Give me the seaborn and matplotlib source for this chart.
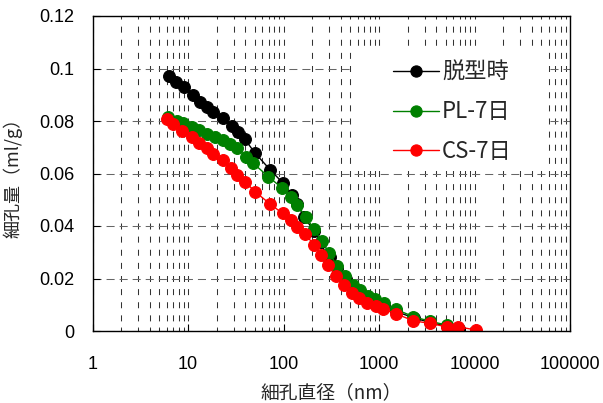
import matplotlib
matplotlib.use("Agg")
import matplotlib.pyplot as plt
from matplotlib.patches import Rectangle
from matplotlib.ticker import FixedLocator, LogLocator, NullFormatter
import pandas as pd
import seaborn as sns

# Cumulative pore volume (ml/g) against pore diameter (nm)
demold_d = [6.3, 7.5, 9.1, 11.4, 13.4, 15.7, 18.4, 23.4, 28.7, 33.6, 39.5, 50, 73, 99,
            122, 140, 165, 210, 245, 283, 305, 365, 450, 520, 620, 770, 910, 1130, 1500,
            2300, 3400, 5100, 6800]
demold_v = [0.0971, 0.0950, 0.0928, 0.0899, 0.0873, 0.0852, 0.0836, 0.0810, 0.0781, 0.0759,
            0.0730, 0.0679, 0.0613, 0.0563, 0.0520, 0.0482, 0.0433, 0.0380, 0.0340, 0.0285,
            0.0283, 0.0240, 0.0200, 0.0168, 0.0148, 0.0126, 0.0114, 0.0098, 0.0075, 0.0050,
            0.0033, 0.0018, 0.0008]

pl7_d = [6.2, 7.6, 8.9, 10.9, 13.1, 15.7, 19.2, 23.1, 27.5, 32.8, 40.5, 48.3, 69.3, 95.8,
         120, 140, 170, 210, 250, 302, 362, 440, 530, 630, 770, 910, 1120, 1510, 2290, 3400,
         5100]
pl7_v = [0.0816, 0.0800, 0.0791, 0.0778, 0.0766, 0.0750, 0.0738, 0.0728, 0.0712, 0.0696,
         0.0664, 0.0639, 0.0588, 0.0546, 0.0512, 0.0480, 0.0436, 0.0387, 0.0342, 0.0298,
         0.0249, 0.0208, 0.0175, 0.0155, 0.0135, 0.0123, 0.0105, 0.0082, 0.0055, 0.0037,
         0.0023]

cs7_d = [6.0, 7.0, 8.7, 10.9, 13.1, 15.7, 18.4, 23.4, 28, 32.8, 39.5, 50.3, 72.2, 98,
         120, 140, 168, 209, 245, 294, 355, 430, 517, 622, 754, 930, 1110, 1520, 2290, 3400,
         5100, 6770, 10300]
cs7_v = [0.0806, 0.0789, 0.0763, 0.0738, 0.0717, 0.0696, 0.0674, 0.0651, 0.0620, 0.0594,
         0.0569, 0.0531, 0.0484, 0.0448, 0.0423, 0.0397, 0.0370, 0.0328, 0.0290, 0.0251,
         0.0210, 0.0175, 0.0146, 0.0125, 0.0108, 0.0095, 0.0083, 0.0065, 0.0039, 0.0029,
         0.0016, 0.0016, 0.0004]

series_names = ["脱型時", "PL-7日", "CS-7日"]
series_colors = ["black", "green", "red"]

x_ticks = [1, 10, 100, 1000, 10000, 100000]
x_tick_labels = ["1", "10", "100", "1000", "10000", "100000"]
y_ticks = [0, 0.02, 0.04, 0.06, 0.08, 0.1, 0.12]
y_tick_labels = ["0", "0.02", "0.04", "0.06", "0.08", "0.1", "0.12"]

x_label = "細孔直径（nm）"
y_label = "細孔量（ml/g）"

sns.set_style("ticks")
plt.rcParams["font.family"] = ["Liberation Sans", "Noto Sans CJK JP", "DejaVu Sans"]
plt.rcParams["lines.scale_dashes"] = False

frames = []
for name, d, v in zip(series_names, [demold_d, pl7_d, cs7_d], [demold_v, pl7_v, cs7_v]):
    frames.append(pd.DataFrame({"diameter": d, "volume": v, "series": name}))
data = pd.concat(frames, ignore_index=True)

fig = plt.figure(figsize=(6.03, 4.03), dpi=100)
ax = fig.add_axes([92.5 / 603, 1 - 331 / 403, 477.5 / 603, 315 / 403])

for name, color in zip(series_names, series_colors):
    sub = data[data["series"] == name]
    sns.lineplot(data=sub, x="diameter", y="volume", ax=ax, color=color, sort=False,
                 estimator=None, marker="o", markersize=8.5, mec=color, mew=0.8,
                 linewidth=1.0, label=name)

ax.set_xscale("log")
ax.set_xlim(1, 100000)
ax.set_ylim(0, 0.12)
ax.xaxis.set_major_locator(FixedLocator(x_ticks))
ax.set_xticklabels(x_tick_labels)
ax.xaxis.set_minor_locator(LogLocator(base=10, subs=range(2, 10), numticks=20))
ax.xaxis.set_minor_formatter(NullFormatter())
ax.set_yticks(y_ticks)
ax.set_yticklabels(y_tick_labels)

# dashed grid: short dark dashes on every decade step, longer grey dashes on y ticks
vdash = (2.16, (4.32, 5.13))
ax.grid(True, which="both", axis="x", color="#333333", linewidth=0.75, linestyle=vdash)
ax.grid(True, which="major", axis="y", color="#666666", linewidth=0.75,
        linestyle=(0, (5.8, 3.6)))

ax.tick_params(axis="both", which="major", direction="in", length=5, width=0.8,
               labelsize=13, colors="black")
ax.tick_params(axis="x", which="major", pad=18)
ax.tick_params(axis="y", which="major", pad=13)
ax.tick_params(axis="x", which="minor", direction="in", length=3, width=0.6)
for s in ax.spines.values():
    s.set_visible(True)
    s.set_color("black")
    s.set_linewidth(1.0)

ax.set_xlabel(x_label, fontsize=13.5, family=["Noto Sans CJK JP"])
ax.set_ylabel(y_label, fontsize=13, family=["Noto Sans CJK JP"])
ax.xaxis.set_label_coords(0.5, -0.162)
ax.yaxis.set_label_coords(-0.146, 0.5)

# white panel behind the legend
ax.add_patch(Rectangle((0.543, 0.521), 0.411, 0.381, transform=ax.transAxes,
                       facecolor="white", edgecolor="none", zorder=1.8))
handles, labels = ax.get_legend_handles_labels()
ax.legend(handles, labels, loc="upper left", bbox_to_anchor=(0.629, 0.857),
          frameon=False, borderpad=0, borderaxespad=0, handlelength=2.07,
          handletextpad=0.15, labelspacing=0.74,
          prop={"family": "Noto Sans CJK JP", "size": 16}, markerscale=0.95)

fig.savefig("out.png", dpi=100)
